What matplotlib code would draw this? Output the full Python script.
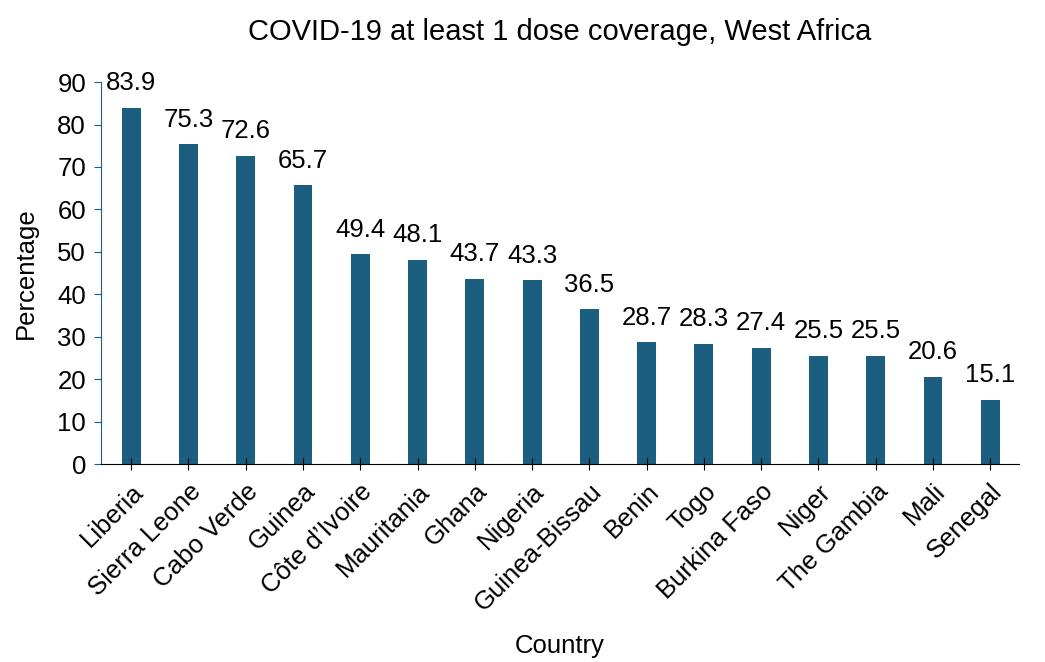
import matplotlib.pyplot as plt

plt.rcParams['font.family'] = ['Liberation Sans', 'DejaVu Sans']

countries = ["Liberia", "Sierra Leone", "Cabo Verde", "Guinea", "Côte d\u2019Ivoire",
             "Mauritania", "Ghana", "Nigeria", "Guinea-Bissau", "Benin", "Togo",
             "Burkina Faso", "Niger", "The Gambia", "Mali", "Senegal"]
coverage = [83.9, 75.3, 72.6, 65.7, 49.4, 48.1, 43.7, 43.3, 36.5, 28.7, 28.3,
            27.4, 25.5, 25.5, 20.6, 15.1]

bar_color = "#1b5e7f"

fig = plt.figure(figsize=(10.45, 6.62), dpi=100)
ax = fig.add_axes([0.097, 0.299, 0.878, 0.577])

x = range(len(countries))
bars = ax.bar(x, coverage, width=0.33, color=bar_color)
for xi, v in zip(x, coverage):
    ax.annotate(f"{v:.1f}", (xi, v), xytext=(0, 9), textcoords="offset points",
                ha="center", va="bottom", fontsize=18.5)

ax.set_xlim(-0.52, len(countries) - 0.5)
ax.set_ylim(0, 90)
ax.set_yticks(range(0, 91, 10))
ax.set_xticks(list(x))
ax.set_xticklabels(countries, rotation=45, ha="right", rotation_mode="anchor")

for side in ["top", "right"]:
    ax.spines[side].set_visible(False)
ax.spines["left"].set_color(bar_color)
ax.spines["bottom"].set_color("black")
ax.tick_params(axis="y", colors=bar_color, labelcolor="black", labelsize=18.5,
               length=5, direction="out", pad=6)
ax.tick_params(axis="x", colors="black", labelsize=18.5, length=8,
               direction="inout", pad=7)

ax.set_ylabel("Percentage", fontsize=18.5, labelpad=14)
ax.set_xlabel("Country", fontsize=18.5)
ax.xaxis.set_label_coords(0.5, -0.445)
ax.set_title("COVID-19 at least 1 dose coverage, West Africa", fontsize=21, pad=30)

fig.savefig("out.png", dpi=100)
